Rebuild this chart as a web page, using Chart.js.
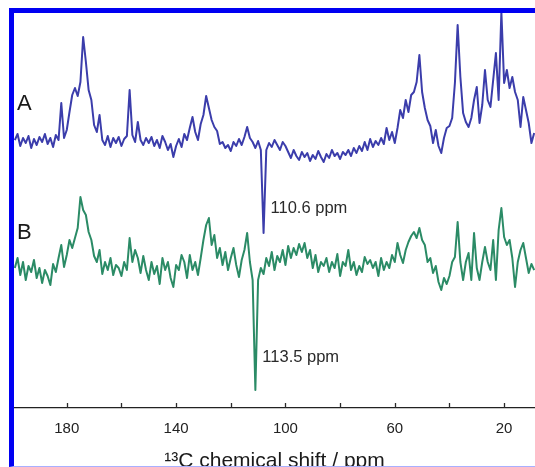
<!DOCTYPE html>
<html>
<head>
<meta charset="utf-8">
<script src="https://cdn.jsdelivr.net/npm/chart.js@4.4.1/dist/chart.umd.min.js"></script>
<style>
  body { margin: 0; background: #fff; }
  #wrap { position: relative; width: 535px; height: 467px; }
  #frame {
    position: absolute; left: 9px; top: 8px; width: 521px; height: 453px;
    border-left: 5px solid #0000f2; border-top: 5px solid #0000f2;
    border-bottom: 1px solid #a8b0ff; pointer-events: none;
  }
</style>
</head>
<body>
<div id="wrap">
  <canvas id="nmr" width="535" height="467"></canvas>
  <div id="frame"></div>
</div>
<script>
// ================== DATA ==================
// chemical shift grid (ppm), read at 1 ppm steps
const ppm = [199,198,197,196,195,194,193,192,191,190,189,188,187,186,185,184,183,182,181,180,
  179,178,177,176,175,174,173,172,171,170,169,168,167,166,165,164,163,162,161,160,
  159,158,157,156,155,154,153,152,151,150,149,148,147,146,145,144,143,142,141,140,
  139,138,137,136,135,134,133,132,131,130,129,128,127,126,125,124,123,122,121,120,
  119,118,117,116,115,114,113,112,111,110,109,108,107,106,105,104,103,102,101,100,
  99,98,97,96,95,94,93,92,91,90,89,88,87,86,85,84,83,82,81,80,
  79,78,77,76,75,74,73,72,71,70,69,68,67,66,65,64,63,62,61,60,
  59,58,57,56,55,54,53,52,51,50,49,48,47,46,45,44,43,42,41,40,
  39,38,37,36,35,34,33,32,31,30,29,28,27,26,25,24,23,22,21,20,
  19,18,17,16,15,14,13,12,11,10,9];

// spectrum A intensity (arbitrary units, relative to its baseline)
const specA = [0,6,-6,2,-3,4,-8,1,-5,3,-2,6,-4,2,-7,5,0,37,2,10,
  28,45,52,44,58,103,78,50,40,15,8,25,0,-5,4,-7,2,-3,3,-6,
  1,4,50,5,-2,18,0,-5,2,-3,3,-6,0,-8,4,-2,-10,-4,-17,-6,
  1,-7,6,0,12,23,8,0,16,25,44,32,20,13,9,-4,-2,-8,-5,-11,
  -2,-6,1,-5,3,13,2,-2,-8,-1,-10,-93,-10,-3,-7,0,-5,-10,-2,-6,
  -12,-18,-10,-16,-20,-12,-17,-13,-21,-15,-19,-11,-17,-22,-14,-18,-10,-16,-13,-19,
  -12,-15,-10,-16,-8,-13,-6,-11,-2,-10,1,-7,-1,-5,2,-4,12,0,8,-3,
  12,30,22,40,28,45,48,58,85,48,32,20,14,-3,10,-6,-13,2,12,14,
  22,57,115,63,27,18,13,22,40,53,17,35,70,40,33,60,87,40,128,57,
  70,52,63,48,40,13,43,30,17,-3,7];

// spectrum B intensity (arbitrary units, relative to its baseline)
const specB = [0,10,-7,6,-12,2,-4,8,-10,0,-15,-2,-8,-17,4,-4,10,23,1,13,
  28,20,30,40,71,58,53,36,28,12,6,18,-6,6,-2,10,-7,3,0,-8,
  6,-2,30,6,18,10,-5,12,-2,-12,6,-6,2,-16,10,-2,6,-10,-19,3,
  -2,13,6,-10,13,-2,6,-7,10,28,43,50,23,33,10,20,3,16,-2,10,
  20,3,-9,8,18,35,6,-12,-122,-12,0,-6,10,2,16,-2,12,6,18,3,
  22,10,20,13,24,16,25,10,18,0,13,-4,6,2,10,-4,6,0,14,-8,
  6,2,18,-2,6,-7,2,-4,11,4,8,0,6,-8,10,-2,6,0,13,6,
  25,13,5,18,26,32,36,30,40,28,23,6,10,-5,2,-14,-22,-10,-16,-8,
  6,11,46,6,-12,6,15,-12,35,0,-12,6,21,6,-2,28,-12,38,60,31,
  23,28,10,-19,6,18,25,10,-5,4,-2];

const tickValues = [180, 160, 140, 120, 100, 80, 60, 40, 20];
const tickLabels = ['180', '', '140', '', '100', '', '60', '', '20'];

const offsetA = 268;
const offsetB = 140;

// ================== HELPERS ==================
function toPoints(values, offset) {
  return values.map((v, i) => ({ x: ppm[i], y: offset + v }));
}

const FONT = '"Liberation Sans", Arial, sans-serif';

// short upward tick marks + text labels
const decorPlugin = {
  id: 'decor',
  afterDraw(chart) {
    const { ctx, chartArea, scales } = chart;
    const xs = scales.x, ys = scales.y;
    ctx.save();
    ctx.strokeStyle = '#2a2a2a';
    ctx.lineWidth = 1.3;
    tickValues.forEach(v => {
      const px = Math.round(xs.getPixelForValue(v)) + 0.5;
      ctx.beginPath();
      ctx.moveTo(px, chartArea.bottom);
      ctx.lineTo(px, chartArea.bottom - 5);
      ctx.stroke();
    });

    ctx.fillStyle = '#1a1a1a';
    ctx.textBaseline = 'middle';
    ctx.textAlign = 'left';
    ctx.font = '22px ' + FONT;
    ctx.fillText('A', chartArea.left + 3, ys.getPixelForValue(offsetA + 36));
    ctx.fillText('B', chartArea.left + 3, ys.getPixelForValue(offsetB + 35));

    ctx.font = '16.5px ' + FONT;
    ctx.fillStyle = '#2a2a2a';
    ctx.fillText('110.6 ppm', xs.getPixelForValue(108) + 7, ys.getPixelForValue(offsetA - 68));
    ctx.fillText('113.5 ppm', xs.getPixelForValue(111) + 7, ys.getPixelForValue(offsetB - 89));
    ctx.restore();
  }
};

// ================== CHART ==================
new Chart(document.getElementById('nmr').getContext('2d'), {
  type: 'line',
  data: {
    datasets: [
      { label: 'A', data: toPoints(specA, offsetA), borderColor: '#3b3dab', borderWidth: 2 },
      { label: 'B', data: toPoints(specB, offsetB), borderColor: '#2b8b66', borderWidth: 2 }
    ]
  },
  options: {
    responsive: false,
    animation: false,
    events: [],
    elements: { point: { radius: 0 }, line: { tension: 0, borderJoinStyle: 'round' } },
    layout: { padding: { left: 14, top: 13, right: 0, bottom: 0 } },
    plugins: { legend: { display: false }, tooltip: { enabled: false } },
    scales: {
      x: {
        type: 'linear',
        reverse: true,
        min: 8.7,
        max: 199.3,
        afterBuildTicks: s => { s.ticks = tickValues.map(v => ({ value: v })); },
        afterFit: s => { s.height = 59; },
        grid: { display: true, drawOnChartArea: false, drawTicks: false },
        border: { display: true, color: '#222', width: 1.3 },
        ticks: {
          padding: 12,
          maxRotation: 0,
          autoSkip: false,
          color: '#222',
          font: { family: FONT, size: 15 },
          callback: (v) => tickLabels[tickValues.indexOf(v)]
        },
        title: {
          display: true,
          text: '¹³C chemical shift / ppm',
          color: '#1a1a1a',
          font: { family: FONT, size: 21 },
          padding: { top: 0, bottom: -7 }
        }
      },
      y: { display: false, min: 0, max: 395 }
    }
  },
  plugins: [decorPlugin]
});
</script>
</body>
</html>
